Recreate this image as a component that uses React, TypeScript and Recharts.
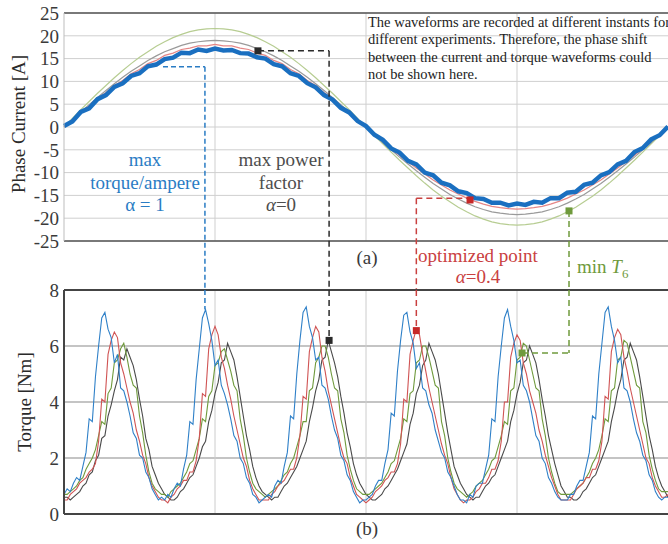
import React from 'react';
import { CartesianGrid, Line, LineChart, ReferenceDot, ReferenceLine, XAxis, YAxis } from 'recharts';

// phase current, one sample every 5 electrical degrees (0..360)
const CURRENT_STEP = 5;
const CURRENT_BLUE = [
  0.2, 1.2, 3.3, 4.1, 6.1, 7.0, 8.8, 9.6, 11.2, 11.8, 13.3, 13.7, 14.9, 15.2, 16.3, 16.2, 17.0, 16.7, 17.2,
  16.8, 16.9, 16.2, 16.1, 15.3, 15.0, 13.8, 13.3, 11.8, 11.2, 9.6, 8.7, 7.0, 6.0, 4.2, 3.2, 1.3, 0.2,
  -1.7, -2.8, -4.7, -5.6, -7.4, -8.2, -10.0, -10.6, -12.2, -12.8, -14.1, -14.5, -15.6, -15.8, -16.6, -16.6, -17.2,
  -16.8, -17.1, -16.4, -16.6, -15.6, -15.6, -14.4, -14.2, -12.7, -12.2, -10.6, -9.9, -8.2, -7.4, -5.5, -4.6, -2.7, -1.8, 0.1,
];
const CURRENT_RED = [
  0, 1.6, 3.2, 4.6, 6.3, 7.5, 9.1, 10.2, 11.7, 12.6, 13.9, 14.6, 15.7, 16.2, 17.0, 17.3, 17.8, 17.8, 18.1,
  17.8, 17.8, 17.3, 17.0, 16.2, 15.7, 14.6, 13.9, 12.6, 11.7, 10.2, 9.1, 7.5, 6.3, 4.6, 3.2, 1.6, 0,
  -1.5, -3.1, -4.7, -6.2, -7.6, -9.0, -10.3, -11.6, -12.7, -13.8, -14.7, -15.6, -16.3, -16.9, -17.4, -17.7, -17.9,
  -18.0, -17.9, -17.7, -17.4, -16.9, -16.3, -15.6, -14.7, -13.8, -12.7, -11.6, -10.3, -9.0, -7.6, -6.2, -4.7, -3.1, -1.5, 0,
];
const CURRENT_GRAY = [
  0, 1.7, 3.3, 4.9, 6.5, 8.0, 9.5, 10.9, 12.2, 13.4, 14.6, 15.6, 16.5, 17.2, 17.9, 18.4, 18.7, 18.9, 19.0,
  18.9, 18.7, 18.4, 17.9, 17.2, 16.5, 15.6, 14.6, 13.4, 12.2, 10.9, 9.5, 8.0, 6.5, 4.9, 3.3, 1.7, 0,
  -1.7, -3.4, -5.0, -6.6, -8.1, -9.6, -11.0, -12.4, -13.6, -14.8, -15.8, -16.7, -17.5, -18.1, -18.6, -18.9, -19.1,
  -19.2, -19.1, -18.9, -18.6, -18.1, -17.5, -16.7, -15.8, -14.8, -13.6, -12.4, -11.0, -9.6, -8.1, -6.6, -5.0, -3.4, -1.7, 0,
];
const CURRENT_GREEN = [
  0, 1.9, 3.8, 5.6, 7.4, 9.1, 10.8, 12.4, 13.9, 15.3, 16.5, 17.7, 18.7, 19.6, 20.3, 20.9, 21.3, 21.5, 21.6,
  21.5, 21.3, 20.9, 20.3, 19.6, 18.7, 17.7, 16.5, 15.3, 13.9, 12.4, 10.8, 9.1, 7.4, 5.6, 3.8, 1.9, 0,
  -1.9, -3.7, -5.5, -7.3, -9.0, -10.7, -12.3, -13.8, -15.2, -16.4, -17.6, -18.6, -19.5, -20.2, -20.8, -21.2, -21.4,
  -21.5, -21.4, -21.2, -20.8, -20.2, -19.5, -18.6, -17.6, -16.4, -15.2, -13.8, -12.3, -10.7, -9.0, -7.3, -5.5, -3.7, -1.9, 0,
];
const CURRENT_TICKS = [-25, -20, -15, -10, -5, 0, 5, 10, 15, 20, 25];

// torque, one sample every 1.875 degrees, six ripple periods of 32 samples
const TORQUE_STEP = 1.875;
const TORQUE_BLUE = [
  0.7, 0.9, 0.8, 1.1, 1.3, 1.2, 1.7, 2.2, 3.4, 3.3, 4.9, 6.0, 7.0, 7.2, 6.6, 6.3, 5.4, 5.7, 4.5, 4.4, 4.0, 3.5, 2.9, 2.7, 2.1, 2.0, 1.5, 1.3, 0.9, 0.7, 0.5, 0.6,
  0.5, 0.7, 0.6, 0.9, 1.1, 1.0, 1.6, 2.1, 3.3, 3.2, 4.8, 5.9, 7.0, 7.3, 6.8, 6.2, 5.3, 5.5, 4.6, 4.3, 3.9, 3.4, 2.8, 2.6, 2.0, 1.8, 1.3, 1.1, 0.7, 0.6, 0.4, 0.5,
  0.6, 0.7, 0.6, 1.0, 1.2, 1.1, 1.7, 2.2, 3.5, 3.4, 5.0, 6.2, 7.2, 7.4, 6.7, 6.3, 5.5, 5.6, 4.6, 4.5, 4.1, 3.5, 3.0, 2.7, 2.1, 1.9, 1.4, 1.2, 0.8, 0.6, 0.4, 0.5,
  0.5, 0.6, 0.7, 1.0, 1.2, 1.2, 1.8, 2.3, 3.6, 3.5, 5.1, 6.2, 7.1, 7.2, 6.5, 6.1, 5.2, 5.4, 4.5, 4.4, 3.9, 3.6, 3.0, 2.6, 2.2, 2.0, 1.5, 1.3, 1.0, 0.7, 0.5, 0.5,
  0.4, 0.7, 0.6, 1.0, 1.1, 1.1, 1.6, 2.1, 3.4, 3.3, 4.9, 6.0, 7.0, 7.3, 6.7, 6.2, 5.4, 5.5, 4.6, 4.4, 4.0, 3.4, 2.8, 2.6, 2.0, 1.8, 1.3, 1.1, 0.8, 0.6, 0.5, 0.5,
  0.5, 0.7, 0.7, 1.0, 1.2, 1.2, 1.7, 2.2, 3.5, 3.4, 5.0, 6.1, 7.2, 7.4, 6.7, 6.2, 5.4, 5.6, 4.5, 4.4, 4.0, 3.4, 2.9, 2.6, 2.1, 1.9, 1.4, 1.2, 0.8, 0.6, 0.5, 0.6,
  0.6,
];
const TORQUE_RED = [
  0.5, 0.5, 0.7, 0.8, 0.9, 1.1, 1.2, 1.3, 1.5, 1.6, 1.8, 2.6, 4.1, 4.0, 5.7, 6.2, 6.5, 6.3, 5.4, 5.0, 4.5, 4.0, 3.6, 3.0, 2.6, 2.1, 1.8, 1.3, 1.0, 0.8, 0.6, 0.5,
  0.5, 0.4, 0.6, 0.7, 0.9, 1.0, 1.2, 1.2, 1.5, 1.5, 1.9, 2.7, 4.3, 4.2, 5.9, 6.4, 6.7, 6.4, 5.6, 5.2, 4.6, 4.1, 3.5, 3.0, 2.5, 2.0, 1.7, 1.2, 0.9, 0.7, 0.5, 0.5,
  0.5, 0.5, 0.7, 0.8, 1.0, 1.1, 1.2, 1.4, 1.6, 1.6, 2.0, 2.8, 4.2, 4.1, 5.8, 6.3, 6.7, 6.5, 5.6, 5.1, 4.4, 3.9, 3.4, 2.9, 2.4, 2.0, 1.8, 1.3, 1.0, 0.7, 0.6, 0.5,
  0.4, 0.5, 0.6, 0.8, 0.9, 1.0, 1.2, 1.3, 1.5, 1.5, 1.8, 2.5, 4.1, 4.0, 5.7, 6.2, 6.6, 6.4, 5.7, 5.1, 4.5, 4.0, 3.5, 3.0, 2.5, 2.1, 1.8, 1.3, 0.9, 0.7, 0.5, 0.4,
  0.5, 0.5, 0.6, 0.8, 0.9, 1.1, 1.1, 1.3, 1.6, 1.6, 1.9, 2.6, 4.0, 4.0, 5.6, 6.1, 6.4, 6.2, 5.4, 5.0, 4.4, 4.0, 3.6, 3.0, 2.6, 2.1, 1.7, 1.3, 1.0, 0.7, 0.5, 0.5,
  0.5, 0.5, 0.7, 0.9, 1.0, 1.1, 1.3, 1.3, 1.6, 1.6, 1.9, 2.6, 4.2, 4.1, 5.8, 6.3, 6.6, 6.4, 5.6, 5.1, 4.5, 4.0, 3.5, 3.0, 2.5, 2.0, 1.8, 1.3, 1.0, 0.8, 0.6, 0.6,
  0.7,
];
const TORQUE_GREEN = [
  0.7, 0.7, 0.8, 0.9, 1.0, 1.2, 1.3, 1.6, 1.8, 2.0, 2.3, 2.8, 3.3, 3.2, 4.3, 4.5, 5.4, 5.5, 5.9, 6.1, 5.6, 5.0, 4.6, 4.5, 3.5, 2.9, 2.1, 1.5, 1.1, 0.9, 0.8, 0.7,
  0.7, 0.6, 0.8, 0.9, 1.0, 1.1, 1.3, 1.5, 1.8, 1.9, 2.3, 2.7, 3.4, 3.3, 4.2, 4.4, 5.3, 5.4, 5.8, 5.9, 5.5, 5.1, 4.6, 4.4, 3.4, 2.8, 2.0, 1.5, 1.1, 0.9, 0.8, 0.7,
  0.6, 0.7, 0.8, 0.9, 1.0, 1.2, 1.4, 1.5, 1.8, 2.0, 2.4, 2.8, 3.3, 3.3, 4.4, 4.5, 5.4, 5.6, 6.0, 6.0, 5.6, 5.0, 4.5, 4.4, 3.4, 2.9, 2.1, 1.6, 1.2, 0.9, 0.8, 0.7,
  0.7, 0.7, 0.8, 0.9, 1.0, 1.1, 1.3, 1.5, 1.8, 1.9, 2.3, 2.7, 3.4, 3.3, 4.3, 4.4, 5.4, 5.5, 6.0, 6.0, 5.6, 5.1, 4.6, 4.5, 3.3, 2.8, 2.0, 1.5, 1.1, 0.9, 0.8, 0.7,
  0.6, 0.7, 0.8, 1.0, 1.1, 1.2, 1.4, 1.6, 1.9, 2.0, 2.4, 2.8, 3.3, 3.2, 4.4, 4.5, 5.5, 5.6, 6.1, 6.0, 5.5, 5.0, 4.5, 4.4, 3.4, 2.8, 2.0, 1.5, 1.1, 0.8, 0.7, 0.7,
  0.7, 0.7, 0.8, 0.9, 1.0, 1.1, 1.3, 1.5, 1.8, 2.0, 2.3, 2.8, 3.4, 3.3, 4.4, 4.5, 5.5, 5.6, 6.2, 6.1, 5.6, 5.1, 4.6, 4.5, 3.3, 2.9, 2.1, 1.6, 1.2, 0.9, 0.8, 0.8,
  0.8,
];
const TORQUE_GRAY = [
  0.6, 0.6, 0.5, 0.6, 0.7, 0.8, 1.0, 1.1, 1.4, 1.5, 1.9, 2.1, 2.7, 2.8, 3.5, 3.9, 4.4, 4.8, 5.6, 5.5, 5.9, 5.6, 5.3, 4.8, 4.1, 3.5, 2.7, 2.3, 1.7, 1.4, 1.1, 0.9,
  0.7, 0.6, 0.5, 0.5, 0.6, 0.8, 0.9, 1.1, 1.3, 1.4, 1.7, 2.0, 2.4, 2.6, 3.3, 3.7, 4.3, 4.7, 5.4, 5.5, 6.1, 5.8, 5.5, 4.9, 4.2, 3.5, 2.8, 2.3, 1.7, 1.3, 1.0, 0.8,
  0.7, 0.6, 0.5, 0.6, 0.6, 0.8, 1.0, 1.1, 1.3, 1.5, 1.7, 2.0, 2.3, 2.6, 3.3, 3.8, 4.4, 4.8, 5.5, 5.6, 6.2, 5.8, 5.4, 4.9, 4.2, 3.6, 2.9, 2.4, 1.8, 1.4, 1.1, 0.9,
  0.7, 0.6, 0.5, 0.5, 0.6, 0.7, 0.9, 1.0, 1.2, 1.4, 1.6, 1.9, 2.2, 2.5, 3.2, 3.6, 4.3, 4.6, 5.3, 5.5, 6.1, 5.8, 5.5, 5.0, 4.3, 3.6, 2.9, 2.3, 1.7, 1.4, 1.1, 0.9,
  0.7, 0.6, 0.5, 0.6, 0.6, 0.8, 1.0, 1.1, 1.3, 1.4, 1.7, 2.0, 2.3, 2.6, 3.3, 3.7, 4.3, 4.7, 5.4, 5.5, 6.0, 5.7, 5.4, 4.8, 4.1, 3.5, 2.8, 2.3, 1.8, 1.4, 1.0, 0.8,
  0.6, 0.6, 0.5, 0.5, 0.6, 0.8, 0.9, 1.1, 1.3, 1.4, 1.7, 2.0, 2.3, 2.6, 3.3, 3.8, 4.4, 4.8, 5.5, 5.6, 6.1, 5.8, 5.5, 4.9, 4.2, 3.5, 2.8, 2.3, 1.7, 1.3, 1.0, 0.8,
  0.6,
];
const TORQUE_TICKS = [0, 2, 4, 6, 8];

// operating points marked on both plots (x in electrical degrees)
const PT_TPA = { deg: 84, current: 13.2, torqueTop: 7.3, currentFrom: 59 };
const PT_PF = { deg: 115.6, current: 16.7, drop: 158, torque: 6.2 };
const PT_OPT = { deg: 242, current: -16, drop: 210, torque: 6.55 };
const PT_MIN = { deg: 301, current: -18.4, torque: 5.75, torqueDeg: 273 };

const currentData = CURRENT_BLUE.map((v, i) => ({
  deg: i * CURRENT_STEP,
  blue: v,
  red: CURRENT_RED[i],
  gray: CURRENT_GRAY[i],
  green: CURRENT_GREEN[i],
}));

const torqueData = TORQUE_BLUE.map((v, i) => ({
  deg: i * TORQUE_STEP,
  blue: v,
  red: TORQUE_RED[i],
  gray: TORQUE_GRAY[i],
  green: TORQUE_GREEN[i],
}));

const SERIF = '"Liberation Serif", "Times New Roman", serif';
const C_BLUE = '#2a7cc4';
const C_RED = '#c9403f';
const C_GREEN = '#6f9a3c';
const C_BLACK = '#2a2a2a';
const BELOW = -36; // a bit past the bottom of the upper plot, into the gap

const square = (fill: string) => (p: any) => (
  <rect x={p.cx - 3.5} y={p.cy - 3.5} width={7} height={7} fill={fill} />
);

const tickStyle = { fontSize: 19, fill: '#3a3a3a', fontFamily: SERIF };

export default function App() {
  return (
    <div style={{ position: 'absolute', left: 0, top: 0, width: 668, height: 544, background: '#fff', fontFamily: SERIF, overflow: 'hidden' }}>
      <div style={{ position: 'absolute', left: 0, top: 0 }}>
        <LineChart width={668} height={290} data={currentData} margin={{ top: 13, right: 0, bottom: 49, left: 0 }}>
          <CartesianGrid vertical={false} stroke="#cfcfcf" />
          <XAxis type="number" dataKey="deg" domain={[0, 360]} hide />
          <YAxis
            domain={[-25, 25]}
            ticks={CURRENT_TICKS}
            interval={0}
            width={64}
            tickSize={0}
            tickMargin={5}
            tickLine={false}
            axisLine={{ stroke: '#bdbdbd' }}
            tick={tickStyle}
          />
          {[90, 180, 270].map((x) => (
            <ReferenceLine key={x} x={x} stroke="#cfcfcf" />
          ))}
          <ReferenceLine y={25} stroke="#555" strokeWidth={1.5} />
          <ReferenceLine y={-25} stroke="#555" strokeWidth={1.5} />
          <Line dataKey="green" stroke="#b7cd92" strokeWidth={1.2} dot={false} isAnimationActive={false} />
          <Line dataKey="gray" stroke="#9a9a9a" strokeWidth={1.2} dot={false} isAnimationActive={false} />
          <Line dataKey="red" stroke="#e48686" strokeWidth={1.2} dot={false} isAnimationActive={false} />
          <Line dataKey="blue" stroke="#1a6fc0" strokeWidth={4.5} dot={false} isAnimationActive={false} />

          <ReferenceLine
            segment={[{ x: PT_TPA.currentFrom, y: PT_TPA.current }, { x: PT_TPA.deg, y: PT_TPA.current }]}
            stroke={C_BLUE} strokeWidth={1.5} strokeDasharray="5 3" ifOverflow="visible"
          />
          <ReferenceLine
            segment={[{ x: PT_TPA.deg, y: PT_TPA.current }, { x: PT_TPA.deg, y: BELOW }]}
            stroke={C_BLUE} strokeWidth={1.5} strokeDasharray="5 3" ifOverflow="visible"
          />
          <ReferenceLine
            segment={[{ x: PT_PF.deg, y: PT_PF.current }, { x: PT_PF.drop, y: PT_PF.current }]}
            stroke={C_BLACK} strokeWidth={1.5} strokeDasharray="6 4" ifOverflow="visible"
          />
          <ReferenceLine
            segment={[{ x: PT_PF.drop, y: PT_PF.current }, { x: PT_PF.drop, y: BELOW }]}
            stroke={C_BLACK} strokeWidth={1.5} strokeDasharray="6 4" ifOverflow="visible"
          />
          <ReferenceLine
            segment={[{ x: PT_OPT.drop, y: PT_OPT.current + 0.4 }, { x: PT_OPT.deg, y: PT_OPT.current + 0.4 }]}
            stroke={C_RED} strokeWidth={1.5} strokeDasharray="6 4" ifOverflow="visible"
          />
          <ReferenceLine
            segment={[{ x: PT_OPT.drop, y: PT_OPT.current + 0.4 }, { x: PT_OPT.drop, y: BELOW }]}
            stroke={C_RED} strokeWidth={1.5} strokeDasharray="6 4" ifOverflow="visible"
          />
          <ReferenceLine
            segment={[{ x: PT_MIN.deg, y: PT_MIN.current }, { x: PT_MIN.deg, y: BELOW }]}
            stroke={C_GREEN} strokeWidth={1.5} strokeDasharray="6 4" ifOverflow="visible"
          />
          <ReferenceDot x={PT_PF.deg} y={PT_PF.current} shape={square(C_BLACK)} ifOverflow="visible" />
          <ReferenceDot x={PT_OPT.deg} y={PT_OPT.current} shape={square('#c62828')} ifOverflow="visible" />
          <ReferenceDot x={PT_MIN.deg} y={PT_MIN.current} shape={square(C_GREEN)} ifOverflow="visible" />
        </LineChart>
      </div>

      <div style={{ position: 'absolute', left: 0, top: 278 }}>
        <LineChart width={668} height={266} data={torqueData} margin={{ top: 12, right: 0, bottom: 30, left: 0 }}>
          <CartesianGrid vertical={false} stroke="#b0b0b0" strokeWidth={1.6} />
          <XAxis type="number" dataKey="deg" domain={[0, 360]} hide />
          <YAxis
            domain={[0, 8]}
            ticks={TORQUE_TICKS}
            interval={0}
            width={64}
            tickSize={0}
            tickMargin={5}
            tickLine={false}
            axisLine={{ stroke: '#444', strokeWidth: 2 }}
            tick={tickStyle}
          />
          {[90, 180, 270].map((x) => (
            <ReferenceLine key={x} x={x} stroke="#cccccc" />
          ))}
          <ReferenceLine y={8} stroke="#444" strokeWidth={2} />
          <ReferenceLine y={0} stroke="#444" strokeWidth={2} />
          <Line dataKey="gray" stroke="#4a4a4a" strokeWidth={1.1} dot={false} isAnimationActive={false} />
          <Line dataKey="green" stroke={C_GREEN} strokeWidth={1.1} dot={false} isAnimationActive={false} />
          <Line dataKey="red" stroke="#d05454" strokeWidth={1.1} dot={false} isAnimationActive={false} />
          <Line dataKey="blue" stroke="#2f80c8" strokeWidth={1.1} dot={false} isAnimationActive={false} />

          <ReferenceLine
            segment={[{ x: PT_TPA.deg, y: 8 }, { x: PT_TPA.deg, y: PT_TPA.torqueTop }]}
            stroke={C_BLUE} strokeWidth={1.5} strokeDasharray="5 3" ifOverflow="visible"
          />
          <ReferenceLine
            segment={[{ x: PT_PF.drop, y: 8 }, { x: PT_PF.drop, y: PT_PF.torque }]}
            stroke={C_BLACK} strokeWidth={1.5} strokeDasharray="6 4" ifOverflow="visible"
          />
          <ReferenceLine
            segment={[{ x: PT_OPT.drop, y: 8 }, { x: PT_OPT.drop, y: PT_OPT.torque }]}
            stroke={C_RED} strokeWidth={1.5} strokeDasharray="6 4" ifOverflow="visible"
          />
          <ReferenceLine
            segment={[{ x: PT_MIN.deg, y: 8 }, { x: PT_MIN.deg, y: PT_MIN.torque }]}
            stroke={C_GREEN} strokeWidth={1.5} strokeDasharray="6 4" ifOverflow="visible"
          />
          <ReferenceLine
            segment={[{ x: PT_MIN.torqueDeg, y: PT_MIN.torque }, { x: PT_MIN.deg, y: PT_MIN.torque }]}
            stroke={C_GREEN} strokeWidth={1.5} strokeDasharray="6 4" ifOverflow="visible"
          />
          <ReferenceDot x={PT_PF.drop} y={PT_PF.torque} shape={square(C_BLACK)} ifOverflow="visible" />
          <ReferenceDot x={PT_OPT.drop} y={PT_OPT.torque} shape={square('#c62828')} ifOverflow="visible" />
          <ReferenceDot x={PT_MIN.torqueDeg} y={PT_MIN.torque} shape={square(C_GREEN)} ifOverflow="visible" />
        </LineChart>
      </div>

      {/* axis titles */}
      <div style={{ position: 'absolute', left: 19, top: 124, transform: 'translate(-50%, -50%) rotate(-90deg)', whiteSpace: 'nowrap', fontSize: 19, color: '#2a2a2a' }}>
        Phase Current [A]
      </div>
      <div style={{ position: 'absolute', left: 25, top: 402, transform: 'translate(-50%, -50%) rotate(-90deg)', whiteSpace: 'nowrap', fontSize: 19, color: '#2a2a2a' }}>
        Torque [Nm]
      </div>

      {/* annotations */}
      <div style={{ position: 'absolute', left: 368, top: 14, fontSize: 14.5, lineHeight: '17.3px', color: '#222', whiteSpace: 'nowrap' }}>
        The waveforms are recorded at different instants for<br />
        different experiments. Therefore, the phase shift<br />
        between the current and torque waveforms could<br />
        not be shown here.
      </div>
      <div style={{ position: 'absolute', left: 145, top: 149, transform: 'translateX(-50%)', textAlign: 'center', fontSize: 19, lineHeight: '22.5px', color: C_BLUE, whiteSpace: 'nowrap' }}>
        max<br />torque/ampere<br />α = 1
      </div>
      <div style={{ position: 'absolute', left: 281, top: 149, transform: 'translateX(-50%)', textAlign: 'center', fontSize: 19, lineHeight: '22.5px', color: '#4d4d4d', whiteSpace: 'nowrap' }}>
        max power<br />factor<br /><i>α</i>=0
      </div>
      <div style={{ position: 'absolute', left: 478, top: 245, transform: 'translateX(-50%)', textAlign: 'center', fontSize: 19, lineHeight: '21px', color: C_RED, whiteSpace: 'nowrap' }}>
        optimized point<br /><i>α</i>=0.4
      </div>
      <div style={{ position: 'absolute', left: 577, top: 256, fontSize: 19, color: C_GREEN, whiteSpace: 'nowrap' }}>
        min <i>T</i><sub style={{ fontSize: 13 }}>6</sub>
      </div>
      <div style={{ position: 'absolute', left: 367, top: 258, transform: 'translate(-50%, -50%)', fontSize: 19, color: '#3a3a3a' }}>(a)</div>
      <div style={{ position: 'absolute', left: 367, top: 529, transform: 'translate(-50%, -50%)', fontSize: 19, color: '#3a3a3a' }}>(b)</div>
    </div>
  );
}
